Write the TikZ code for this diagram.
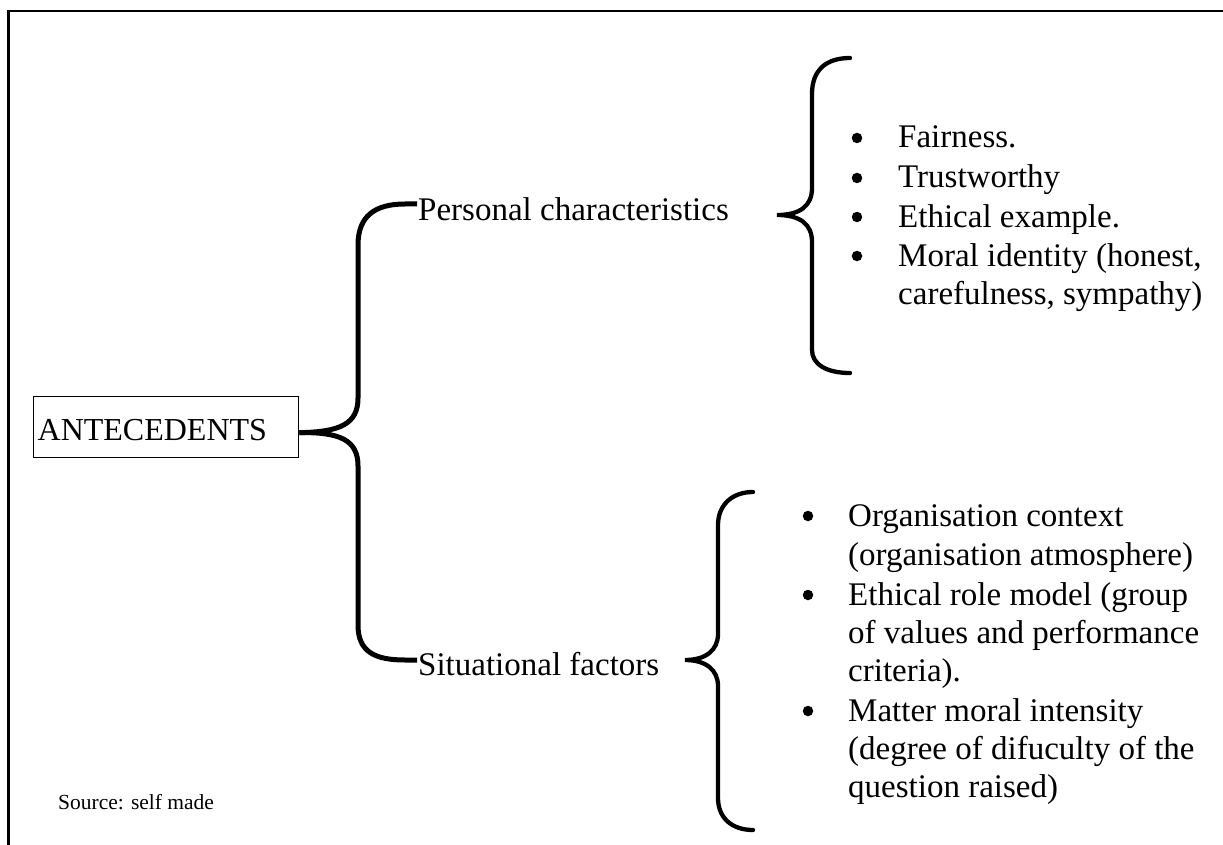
\documentclass[tikz,border=0pt]{standalone}
\usepackage{fontspec}
\setmainfont{Liberation Serif}
\usetikzlibrary{calc}
\begin{document}
\begin{tikzpicture}[x=1pt,y=-1pt,
  txt/.style={font=\fontsize{33}{38.5}\selectfont, inner sep=0pt, anchor=base west},
  conn/.style={line width=5pt},
  bracepath/.style={line width=4.3pt, line cap=round},
  dot/.style={circle, fill, inner sep=0pt, minimum size=10.5pt}]
\useasboundingbox (0,0) rectangle (1223,845);
% frame
\draw[line width=2.2pt] (8.5,846) -- (8.5,11) -- (1224,11);
% root box
\node[draw, line width=1.3pt, anchor=north west, minimum width=265pt, minimum height=61pt,
  text width=257pt, inner xsep=4pt, inner ysep=0pt, align=left, text height=27pt,
  font=\fontsize{32}{37}\selectfont] (ant) at (33,396) {ANTECEDENTS};
\node[txt] (pers) at (418,220) {Personal characteristics};
\node[txt] (sit) at (418,675) {Situational factors};
% connectors
\draw[conn] ($(ant.east)+(0,5.5)$) .. controls (340,432) and (358,424) .. (358,398)
  -- (358,245) .. controls (358,216) and (375,204) .. (405,204) -- ($(pers.base west)+(-1,-16)$);
\draw[conn] ($(ant.east)+(0,5.5)$) .. controls (340,432) and (358,440) .. (358,466)
  -- (358,625) .. controls (358,652) and (375,660) .. (405,660) -- ($(sit.base west)+(-1,-15)$);
% braces
\draw[bracepath] (850,58) .. controls (826,58) and (812,70) .. (812,94) -- (812,188)
  .. controls (812,206) and (800,215) .. (777,215) .. controls (800,215) and (812,224) .. (812,242)
  -- (812,350) .. controls (812,364) and (826,373) .. (850,373);
\draw[bracepath] (753,492) .. controls (732,492) and (718,505) .. (718,525) -- (718,634)
  .. controls (718,650) and (706,660) .. (685,660) .. controls (706,660) and (718,670) .. (718,686)
  -- (718,798) .. controls (718,818) and (732,830) .. (753,830);
% list 1
\node[dot] (b1) at (857,138) {};
\node[dot] (b2) at (857,178) {};
\node[dot] (b3) at (857,217) {};
\node[dot] (b4) at (857,256) {};
\node[txt] (p1) at (898,148) {Fairness.};
\node[txt] (p2) at (898,188) {Trustworthy};
\node[txt] (p3) at (898,227) {Ethical example.};
\node[txt] (p4) at (898,266) {Moral identity (honest,};
\node[txt] (p5) at (898,304) {carefulness, sympathy)};
% list 2
\node[dot] (c1) at (808,516) {};
\node[dot] (c2) at (808,595) {};
\node[dot] (c3) at (808,711) {};
\node[txt] (s1) at (848,526) {Organisation context};
\node[txt] (s2) at (848,565) {(organisation atmosphere)};
\node[txt] (s3) at (848,605) {Ethical role model (group};
\node[txt] (s4) at (848,643) {of values and performance};
\node[txt] (s5) at (848,681) {criteria).};
\node[txt] (s6) at (848,721) {Matter moral intensity};
\node[txt] (s7) at (848,759) {(degree of difuculty of the};
\node[txt] (s8) at (848,797) {question raised)};
% source
\node[font=\fontsize{21.5}{25}\selectfont, inner sep=0pt, anchor=base west] (src) at (58,809) {Source: self made};
\end{tikzpicture}
\end{document}
